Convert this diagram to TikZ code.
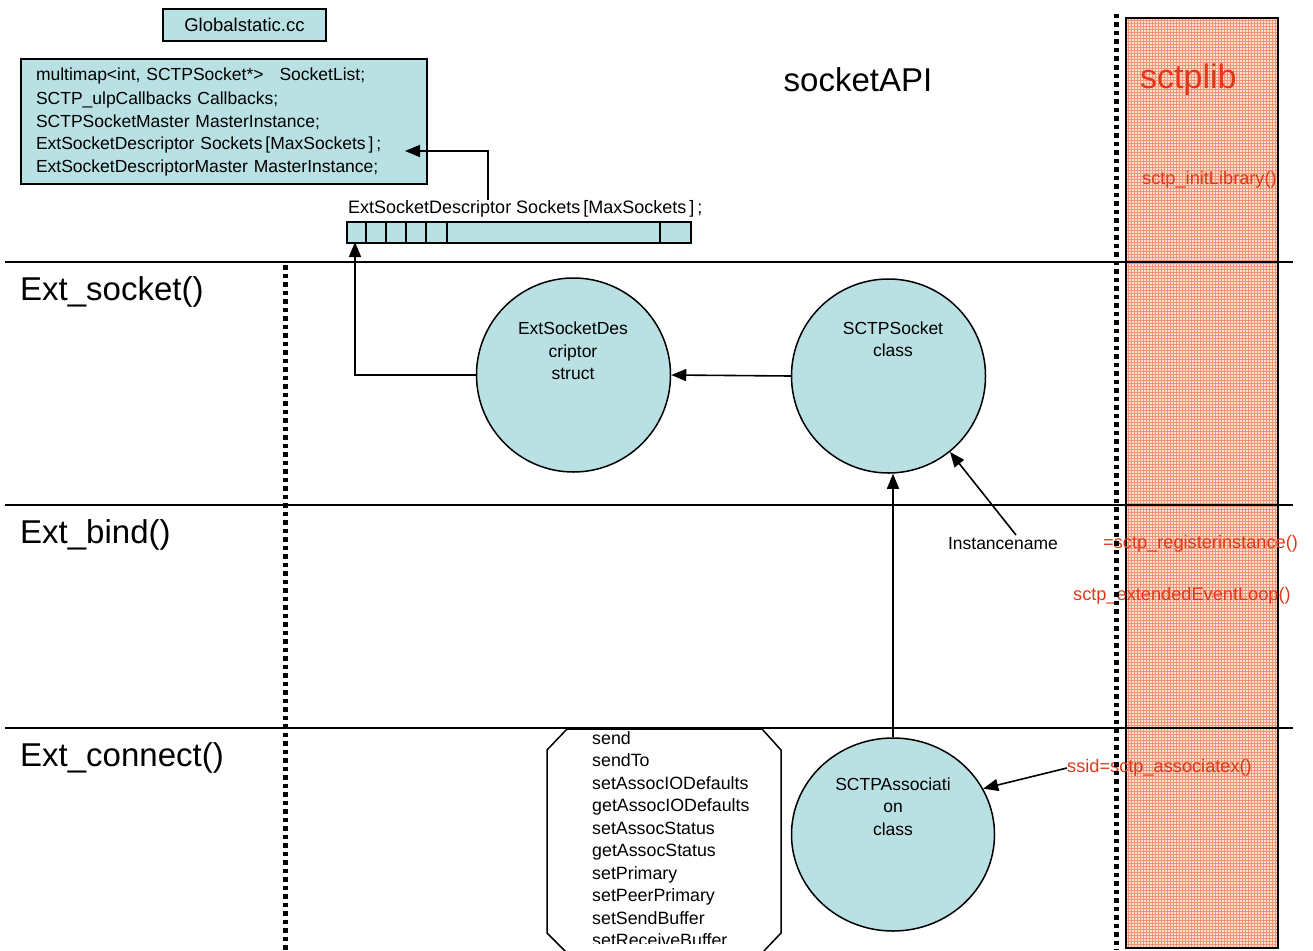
\documentclass[tikz,border=0pt]{standalone}
\usepackage{fontspec}
\setmainfont{Liberation Sans}
\usetikzlibrary{arrows.meta,patterns,shapes.geometric}

\definecolor{structfill}{RGB}{185,224,227}
\definecolor{libred}{RGB}{224,56,24}
\definecolor{libbase}{RGB}{252,222,210}
\definecolor{libgrid}{RGB}{240,148,118}

\begin{document}
\begin{tikzpicture}[x=1pt,y=-1pt,
  every node/.style={inner sep=0pt},
  small/.style={font=\fontsize{17.5}{22.5}\selectfont},
  big/.style={font=\fontsize{33}{38}\selectfont},
  libtext/.style={font=\fontsize{18.2}{22.5}\selectfont, text=libred},
  structbox/.style={draw, line width=1.5pt, fill=structfill},
  objcircle/.style={draw, line width=1.5pt, fill=structfill, circle, minimum size=194pt},
  lane/.style={line width=1.5pt},
  boundary/.style={line width=5pt, dash pattern=on 4.5pt off 4pt},
  link/.style={line width=1.6pt, -{Triangle[length=15pt,width=12pt]}},
]
\useasboundingbox (0,0) rectangle (1313,950);
\clip (0,0) rectangle (1313,950);

% sctplib column
\fill[libbase] (1126,18) rectangle (1278,948);
\fill[pattern=grid, pattern color=libgrid] (1126,18) rectangle (1278,948);
\draw[line width=2pt] (1126,18) rectangle (1278,948);

% swimlane separators
\draw[lane] (5,262) -- (1293,262);
\draw[lane] (5,505) -- (1293,505);
\draw[lane] (5,728) -- (1293,728);

% headings
\node[big, anchor=west] (lsock) at (20,292) {Ext\_socket()};
\node[big, anchor=west] (lbind) at (20,535) {Ext\_bind()};
\node[big, anchor=west] (lconn) at (20,758) {Ext\_connect()};
\node[big] (api) at (858,80) {socketAPI};
\node[font=\fontsize{34}{38}\selectfont, anchor=west, text=libred] (lib) at (1140,80) {sctplib};

% global data
\node[structbox, font=\fontsize{18.5}{22.5}\selectfont, minimum width=163pt, minimum height=32pt, text depth=1pt] (gfile) at (244.5,25) {Globalstatic.cc};
\node[structbox, small, minimum width=406pt, minimum height=125pt, align=left, text width=376pt] (globals) at (224,121.5)
  {\vspace{2pt}multimap<int, SCTPSocket*>\hspace{16pt}SocketList;\\
   SCTP\_ulpCallbacks Callbacks;\\
   SCTPSocketMaster MasterInstance;\\
   ExtSocketDescriptor Sockets\,[MaxSockets\,]\,;\\
   ExtSocketDescriptorMaster MasterInstance;};
\coordinate (globtip) at (405,151);

% descriptor array
\node[font=\fontsize{18}{22.5}\selectfont, anchor=west] (arrlabel) at (348,209) {ExtSocketDescriptor Sockets\,[MaxSockets\,]\,;};
\node[structbox, minimum width=344pt, minimum height=21pt, anchor=north west] (arr) at (346,221) {};
\foreach \x in {366,386,406,426,447,660}
  \draw[line width=1.2pt] (\x,221) -- (\x,242);
\coordinate (tapx) at (488,0);
\coordinate (slot) at (355,242);

% objects
\node[objcircle] (esd) at (573.5,375) {};
\node[small, align=center] (esdtext) at (573,351) {ExtSocketDes\\criptor\\struct};
\node[objcircle] (sock) at (888.5,376) {};
\node[small, align=center] (socktext) at (893,339) {SCTPSocket\\class};
\node[draw, line width=1.5pt, fill=structfill, ellipse, minimum width=203pt, minimum height=193pt] (assoc) at (893,834.5) {};
\node[small, align=center] (assoctext) at (893,806.5) {SCTPAssociati\\on\\class};

% method list
\draw[line width=1.5pt, fill=white] (567,729) -- (762,729) -- (781,750) -- (781,933) -- (762,953)
  -- (567,953) -- (547,933) -- (547,750) -- cycle;
\begin{scope}
  \clip (547,729) rectangle (781,943);
  \node[align=left, anchor=north west, font=\fontsize{17.8}{22.5}\selectfont] (methods) at (592,731)
    {send\\sendTo\\setAssocIODefaults\\getAssocIODefaults\\setAssocStatus\\getAssocStatus\\setPrimary\\setPeerPrimary\\setSendBuffer\\setReceiveBuffer};
\end{scope}

% labels
\node[small] (inst) at (1003,544) {Instancename};
\coordinate (insttap) at (1016,535);
\node[libtext, anchor=west] (initlib) at (1142,180) {sctp\_initLibrary()};
\node[libtext, anchor=west] (reginst) at (1103,544) {=sctp\_registerinstance()};
\node[libtext, anchor=west] (evloop) at (1073,596) {sctp\_extendedEventLoop()};
\node[libtext, anchor=west] (assocx) at (1067,768) {ssid=sctp\_associatex()};

% connectors
\draw[link] (arrlabel.north -| tapx) |- (globtip);
\draw[link] (esd.west) -| (slot);
\draw[link] (sock.west) -- (esd.east);
\draw[link] (assoc.north) -- (assoc.north |- sock.south);
\draw[link] (insttap) -- (sock.-51);
\draw[link] (assocx.west) -- (assoc.27);

% layer boundaries
\draw[boundary] (285,265) -- (285,950);
\draw[boundary] (1116,14) -- (1116,950);
\end{tikzpicture}
\end{document}
